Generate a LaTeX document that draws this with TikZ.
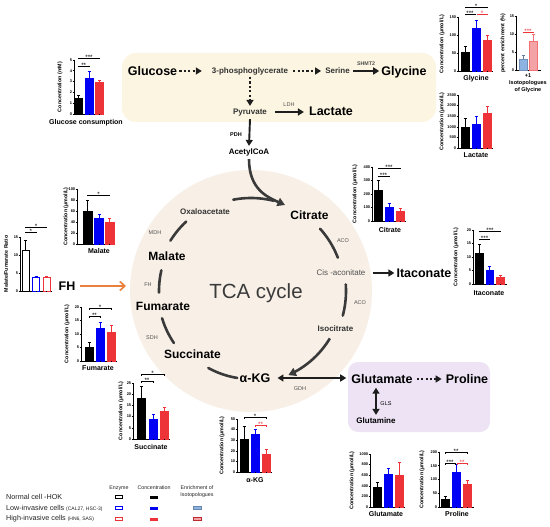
\documentclass[tikz,border=0pt]{standalone}
\usepackage{fontspec}
\setmainfont{Liberation Sans}
\usetikzlibrary{arrows.meta,calc}
\definecolor{band}{HTML}{FCF5E1}
\definecolor{tcabg}{HTML}{F8F0E7}
\definecolor{purp}{HTML}{EDE3F5}
\definecolor{dk}{HTML}{1E1E1E}
\definecolor{cycc}{HTML}{3A3A3A}
\definecolor{cblue}{HTML}{0000F5}
\definecolor{cred}{HTML}{EE3338}
\definecolor{lblue}{HTML}{8DB3E2}
\definecolor{cpink}{HTML}{F3A2A6}
\definecolor{corange}{HTML}{E9803C}
\definecolor{intc}{HTML}{333333}
\definecolor{enzc}{HTML}{505050}
\definecolor{legc}{HTML}{222222}
\newcommand\bw{3.9}
\newcommand\chartaxis[8]{%
  \pgfmathsetmacro\csc{(#2-#3)/#4}%
  \def\cy{#2}%
  \draw[axln] (#1,#3) -- (#1,#2) -- (#6,#2);
  \foreach \t in {#5}{%
    \pgfmathsetmacro\yy{#2-\t*\csc}%
    \draw[axln] (#1-1.3,\yy) -- (#1,\yy);
    \node[ticklab,anchor=east] at (#1-1.3,\yy) {\t};
  }%
  \node[ylab,rotate=90] at (#8,{(#2+#3)/2}) {#7};
}
\newcommand\cbar[5][]{%
  \pgfmathsetmacro\ytop{\cy-#3*\csc}%
  \pgfmathsetmacro\yerr{\cy-(#3+#4)*\csc}%
  \draw[#5,line width=0.5pt] (#2,\ytop+1) -- (#2,\yerr) (#2-1.5,\yerr) -- (#2+1.5,\yerr);
  \draw[draw=#5,fill=#5,line width=0.4pt,#1] (#2-\bw,\cy) rectangle (#2+\bw,\ytop);
}
\newcommand\xticks[1]{\foreach \q in {#1}{\draw[axln] (\q,\cy) -- (\q,\cy+1.3);}}
\newcommand\cbrack[5]{%
  \draw[#5,line width=0.45pt] (#1,#3+1.5) -- (#1,#3) -- (#2,#3) -- (#2,#3+1.5);
  \node[sig,text=#5,anchor=base] at ({(#1+#2)/2},#3+1.8) {#4};
}
\newcommand\tarc[4][]{\draw[cyc,#1] plot[domain=#2:#3,samples=30] ({251+#4*cos(\x)},{291+#4*sin(\x)});}
\begin{document}
\begin{tikzpicture}[x=1pt,y=-1pt,
  met/.style={font=\fontsize{12.5}{14}\selectfont\bfseries, text=black, inner sep=0pt, text height=9pt, text depth=0pt},
  inter/.style={font=\fontsize{8}{9}\selectfont\bfseries, text=intc, inner sep=0pt, text height=5.8pt, text depth=0pt},
  enzl/.style={font=\fontsize{5.5}{6}\selectfont, text=enzc, inner sep=0pt, text height=4pt, text depth=0pt},
  clab/.style={font=\fontsize{7}{8}\selectfont\bfseries, inner sep=0pt, text height=5pt, text depth=0pt},
  ticklab/.style={font=\fontsize{3.9}{4.5}\selectfont\bfseries, inner sep=0.4pt},
  ylab/.style={font=\fontsize{5.3}{6}\selectfont\bfseries, inner sep=0pt},
  sig/.style={font=\fontsize{6.3}{7}\selectfont, inner sep=0pt},
  axln/.style={line width=0.6pt, black},
  arr/.style={line width=1.9pt, draw=dk, -{Triangle[width=7pt,length=6pt]}},
  darr/.style={line width=1.9pt, draw=dk, {Triangle[width=7pt,length=6pt]}-{Triangle[width=7pt,length=6pt]}},
  dotarr/.style={line width=2pt, draw=dk, dash pattern=on 2.2pt off 2.2pt, -{Triangle[width=7pt,length=6pt]}},
  cyc/.style={line width=2.6pt, draw=cycc, line cap=round},
  cycarr/.style={line width=2.6pt, draw=cycc, -{Triangle[width=8.5pt,length=7.5pt]}},
  orarr/.style={line width=1.6pt, draw=corange, -{Straight Barb[width=9pt,length=5pt]}},
  leg/.style={font=\fontsize{7.2}{8}\selectfont, text=legc, inner sep=0pt},
  legh/.style={font=\fontsize{5.3}{6}\selectfont, text=legc, inner sep=0pt}]
\useasboundingbox (0,0) rectangle (550,527);
\fill[white] (0,0) rectangle (550,527);
% backgrounds
\fill[band, rounded corners=14pt] (122,53) rectangle (436,122);
\node[circle, fill=tcabg, minimum size=242pt, inner sep=0pt] (tcabg) at (251,291) {};
\fill[purp, rounded corners=10pt] (348,362) rectangle (490,432);

% glycolysis band
\node[met] (glc) at (152.5,71) {Glucose};
\node[inter] (pg) at (250,71) {3-phosphoglycerate};
\node[inter] (ser) at (337.5,71) {Serine};
\node[met] (gly) at (404,71) {Glycine};
\node[enzl,font=\fontsize{5.3}{6}\selectfont\bfseries] (shmt) at (366,64) {SHMT2};
\node[inter] (pyr) at (250,112) {Pyruvate};
\node[enzl] (ldh) at (289,105) {LDH};
\node[met] (lac) at (331,111) {Lactate};
\node[enzl,font=\fontsize{5.5}{6}\selectfont\bfseries,text=black] (pdh) at (236,135) {PDH};
\node[inter,text=black] (acoa) at (249,152) {AcetylCoA};
\draw[dotarr] ([xshift=2pt]glc.east) -- ([xshift=-10pt]pg.west |- glc.east);
\draw[dotarr] ([xshift=5pt]pg.east) -- ([xshift=-4pt]ser.west |- pg.east);
\draw[arr] ([xshift=3pt]ser.east) -- ([xshift=-2pt]gly.west |- ser.east);
\draw[dotarr] ([yshift=-3pt]pg.south) -- ([yshift=3pt]pyr.north);
\draw[arr] ([xshift=8pt]pyr.east) -- ([xshift=-5pt]lac.west |- pyr.east);
\draw[arr] ([yshift=-4pt]pyr.south) -- ([yshift=3pt]acoa.north);

% TCA cycle
\node[font=\fontsize{20.5}{22}\selectfont, text=cycc, inner sep=0pt] (tca) at (256,293) {TCA cycle};
\node[met,font=\fontsize{12}{14}\selectfont\bfseries] (cit) at (309.5,215) {Citrate};
\node[inter] (oaa) at (205,212) {Oxaloacetate};
\node[met,font=\fontsize{12}{14}\selectfont\bfseries] (mal) at (167,256) {Malate};
\node[met,font=\fontsize{12}{14}\selectfont\bfseries] (fum) at (163,306) {Fumarate};
\node[met,font=\fontsize{12}{14}\selectfont\bfseries] (suc) at (192.5,354) {Succinate};
\node[met] (akg) at (255,378) {α-KG};
\node[inter] (iso) at (335.5,329) {Isocitrate};
\node[inter,font=\fontsize{8}{9}\selectfont,text=enzc] (cis) at (341,273) {Cis -aconitate};
\node[enzl] (mdh) at (155,232) {MDH};
\node[enzl] (fh) at (148,285) {FH};
\node[enzl] (sdh) at (152,337) {SDH};
\node[enzl] (aco1) at (343,240) {ACO};
\node[enzl] (aco2) at (360,303) {ACO};
\node[enzl] (gdh) at (300,388) {GDH};
\tarc{-101}{-76}{93}
\coordinate (citin) at (285,205);
\draw[cycarr] ([yshift=-4pt]acoa.south) .. controls +(0,30) and +(-18,-8) .. (citin);
\tarc{-133}{-148}{95}
\tarc{-167}{-181}{92}
\tarc{163}{146}{93}
\tarc{119}{99}{88}
\tarc{-42}{-21}{93}
\tarc{-4}{15}{95}
\draw[cycarr] plot[domain=31:66,samples=30] ({251+92*cos(\x)},{291+92*sin(\x)});

% side products
\node[met] (itac) at (424,273) {Itaconate};
\draw[arr] ([xshift=7pt]cis.east) -- ([xshift=-2pt]itac.west |- cis.east);
\node[met] (glu) at (382,379) {Glutamate};
\node[met] (pro) at (467,379) {Proline};
\node[inter,text=black] (gln) at (376,421) {Glutamine};
\node[enzl,text=black] (gls) at (386,403) {GLS};
\draw[darr] ([xshift=7pt]akg.east) -- ([xshift=-5pt]glu.west |- akg.east);
\draw[dotarr] ([xshift=4pt]glu.east) -- ([xshift=-4pt]pro.west |- glu.east);
\draw[darr] ($(glu.south -| gln.north)+(0,4)$) -- ($(gln.north)+(0,-3)$);
\node[met] (fhbig) at (67,286) {FH};
\coordinate (fhend) at (126,286);
\draw[orarr] ([xshift=4pt]fhbig.east) -- (fhend);

% ---- charts ----
% Glucose consumption
\chartaxis{74}{114}{60}{5}{0,1,2,3,4,5}{104}{Concentration (mM)}{60}
\cbar{78.5}{1.45}{0.25}{black}
\cbar{89}{3.3}{0.7}{cblue}
\cbar{99.5}{2.9}{0.2}{cred}
\xticks{78.5,89,99.5}
\cbrack{78.5}{89}{66}{**}{black}
\cbrack{78.5}{99.5}{58}{***}{black}
\node[clab] (lglc) at (86,122) {Glucose consumption};
% Glycine
\chartaxis{458}{71}{17}{150}{0,50,100,150}{493}{Concentration (µmol/L)}{442}
\cbar{465}{52}{17}{black}
\cbar{476}{120}{22}{cblue}
\cbar{487}{85}{15}{cred}
\xticks{465,476,487}
\cbrack{465}{475}{14}{***}{black}
\cbrack{477}{487}{14}{*}{cred}
\cbrack{465}{487}{7}{*}{black}
\node[clab] (lgly) at (476,78) {Glycine};
% enrichment
\chartaxis{516}{70}{16}{15}{0,5,10,15}{541}{percent enrichment (\%)}{503}
\cbar[fill=lblue,draw=lblue!80!black]{523}{3}{1}{lblue!70!black}
\cbar[fill=cpink,draw=cred!70!white]{533}{8}{1.8}{cred!70!white}
\xticks{528}
\cbrack{523}{533}{32}{***}{cred}
\node[clab,font=\fontsize{5.5}{6}\selectfont\bfseries,text height=4pt] (l1a) at (528,76) {+1};
\node[clab,font=\fontsize{5.5}{6}\selectfont\bfseries,text height=4pt] (l1b) at (528,83) {Isotopologues};
\node[clab,font=\fontsize{5.5}{6}\selectfont\bfseries,text height=4pt] (l1c) at (528,90) {of Glycine};
% Lactate
\chartaxis{458}{148}{95}{2500}{0,500,1000,1500,2000,2500}{493}{Concentration (µmol/L)}{442}
\cbar{465}{1000}{400}{black}
\cbar{476}{1100}{380}{cblue}
\cbar{487}{1620}{370}{cred}
\xticks{465,476,487}
\node[clab] (llac) at (476,155) {Lactate};
% Citrate
\chartaxis{372}{221}{167}{400}{0,100,200,300,400}{406}{Concentration (µmol/L)}{355}
\cbar{378}{230}{70}{black}
\cbar{389}{105}{25}{cblue}
\cbar{400}{72}{25}{cred}
\xticks{378,389,400}
\cbrack{378}{389}{176}{***}{black}
\cbrack{378}{400}{168}{***}{black}
\node[clab] (lcit) at (390,230) {Citrate};
% Itaconate
\chartaxis{473}{284}{230}{20}{0,5,10,15,20}{507}{Concentration (µmol/L)}{456}
\cbar{479.5}{11.5}{3.3}{black}
\cbar{489.7}{5}{1.5}{cblue}
\cbar{500.5}{2.7}{0.7}{cred}
\xticks{479.5,489.7,500.5}
\cbrack{479.5}{489.7}{239}{***}{black}
\cbrack{479.5}{500.5}{231}{***}{black}
\node[clab] (lita) at (489,293) {Itaconate};
% Malate
\renewcommand\bw{4.4}
\chartaxis{77}{244}{189}{100}{0,20,40,60,80,100}{115}{Concentration (µmol/L)}{66}
\cbar{87.5}{60}{20}{black}
\cbar{99}{47}{7}{cblue}
\cbar{109.5}{40}{6}{cred}
\xticks{87.5,99,109.5}
\cbrack{87.5}{109.5}{195}{*}{black}
\node[clab] (lmal) at (99,251) {Malate};
\renewcommand\bw{3.6}
% Malate/Fumarate ratio
\chartaxis{20}{291}{237}{15}{0,5,10,15}{52}{Malate/Fumarate Ratio}{6}
\cbar[fill=white,line width=0.8pt]{25.5}{11.2}{3}{black}
\cbar[fill=white,line width=0.8pt]{36}{3.9}{0.3}{cblue}
\cbar[fill=white,line width=0.8pt]{46.5}{3.9}{0.3}{cred}
\xticks{25.5,36,46.5}
\cbrack{25.5}{36}{232}{*}{black}
\cbrack{25.5}{46.5}{227}{*}{black}
\renewcommand\bw{3.9}
% Fumarate
\chartaxis{81}{361}{307}{20}{0,5,10,15,20}{117}{Concentration (µmol/L)}{67}
\cbar{89}{5.2}{1.8}{black}
\cbar{100}{12.2}{2.3}{cblue}
\cbar{111}{10.7}{2.6}{cred}
\xticks{89,100,111}
\cbrack{89}{100}{316}{**}{black}
\cbrack{89}{111}{308}{*}{black}
\node[clab] (lfum) at (98,368) {Fumarate};
% Succinate
\chartaxis{133}{439}{383}{25}{0,5,10,15,20,25}{170}{Concentration (µmol/L)}{121}
\cbar{141}{18}{5.5}{black}
\cbar{153}{9}{2}{cblue}
\cbar{164}{12.3}{1.8}{cred}
\xticks{141,153,164}
\cbrack{141}{153}{381}{**}{black}
\cbrack{141}{164}{374}{*}{black}
\node[clab] (lsuc) at (151,447) {Succinate};
% alpha-KG
\chartaxis{237}{472}{419}{50}{0,10,20,30,40,50}{272}{Concentration (µmol/L)}{222}
\cbar{244}{30.5}{13}{black}
\cbar{255}{35.5}{5}{cblue}
\cbar{266}{17}{4.5}{cred}
\xticks{244,255,266}
\cbrack{255}{266}{425}{**}{cred}
\cbrack{244}{266}{417}{*}{black}
\node[clab] (lakg) at (255,480) {α-KG};
% Glutamate
\chartaxis{370}{507}{454}{1000}{0,200,400,600,800,1000}{405}{Concentration (µmol/L)}{352}
\cbar{377}{380}{90}{black}
\cbar{388}{625}{110}{cblue}
\cbar{399}{600}{240}{cred}
\xticks{377,388,399}
\node[clab] (lglu) at (386,514) {Glutamate};
% Proline
\chartaxis{439}{507}{452}{200}{0,50,100,150,200}{474}{Concentration (µmol/L)}{422}
\cbar{445}{30}{10}{black}
\cbar{456}{125}{30}{cblue}
\cbar{467}{83}{15}{cred}
\xticks{445,456,467}
\cbrack{445}{455}{463}{***}{black}
\cbrack{457}{467}{463}{**}{cred}
\cbrack{445}{467}{452}{**}{black}
\node[clab] (lpro) at (457,514) {Proline};

% ---- legend ----
\node[legh] (h1) at (119,488) {Enzyme};
\node[legh] (h2) at (154,488) {Concentration};
\node[legh] (h3) at (197,488) {Enrichment of};
\node[legh] (h4) at (197,495) {Isotopologues};
\node[leg,anchor=west] (r1) at (6,497) {Normal cell -HOK};
\node[leg,anchor=west] (r2) at (6,508) {Low-invasive cells {\fontsize{5}{6}\selectfont(CAL27, HSC-3)}};
\node[leg,anchor=west] (r3) at (6,519) {High-invasive cells {\fontsize{5}{6}\selectfont(HN6, SAS)}};
\draw[black,line width=0.7pt] (115.5,495.5) rectangle (122.5,498.5);
\draw[cblue,line width=0.7pt] (115.5,506.5) rectangle (122.5,509.5);
\draw[cred,line width=0.7pt] (115.5,517.5) rectangle (122.5,520.5);
\fill[black] (150,495.5) rectangle (158,498.5);
\fill[cblue] (150,506.5) rectangle (158,509.5);
\fill[cred] (150,517.5) rectangle (158,520.5);
\draw[lblue!75!black,fill=lblue,line width=0.4pt] (193,506.5) rectangle (201,509.5);
\draw[cred!80!black,fill=cpink,line width=0.4pt] (193,517.5) rectangle (201,520.5);
\end{tikzpicture}
\end{document}
